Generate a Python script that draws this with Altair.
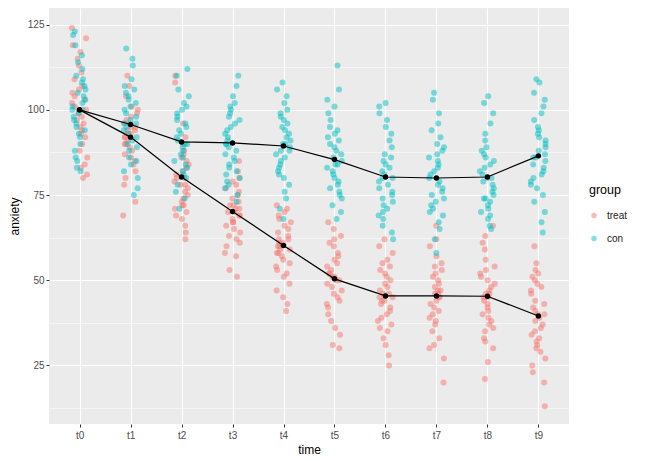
import altair as alt
import pandas as pd

times = ["t0", "t1", "t2", "t3", "t4", "t5", "t6", "t7", "t8", "t9"]
groups = ["treat", "con"]
group_colors = ["#F8766D", "#00BFC4"]

treat_values = [
    [124, 121, 119, 117, 115, 113, 111, 109, 107, 106, 105, 104, 103, 102, 101, 100, 100, 99, 98, 97, 96, 95, 94, 93, 92, 90, 88, 86, 84, 83, 81, 80],
    [110, 107, 104, 101, 100, 99, 98, 97, 96, 96, 95, 95, 94, 94, 93, 93, 92, 92, 91, 90, 90, 89, 88, 87, 86, 85, 84, 82, 80, 78, 73, 69],
    [110, 108, 96, 92, 90, 88, 87, 86, 85, 84, 83, 82, 81, 80, 80, 79, 78, 78, 77, 76, 75, 74, 73, 72, 72, 71, 70, 69, 68, 66, 64, 62],
    [85, 82, 80, 79, 78, 77, 76, 75, 74, 73, 72, 72, 71, 71, 70, 70, 69, 69, 68, 67, 67, 66, 65, 64, 63, 62, 61, 60, 58, 57, 53, 51],
    [72, 71, 70, 69, 68, 67, 66, 65, 64, 63, 62, 62, 61, 61, 60, 60, 59, 59, 58, 58, 57, 56, 55, 54, 53, 52, 51, 49, 47, 45, 43, 41],
    [67, 65, 63, 62, 61, 60, 58, 57, 56, 55, 54, 53, 52, 52, 51, 51, 50, 50, 49, 48, 47, 46, 45, 44, 43, 42, 40, 38, 36, 34, 31, 30],
    [62, 60, 58, 56, 55, 54, 53, 52, 51, 50, 49, 48, 47, 46, 46, 45, 45, 44, 44, 43, 42, 41, 40, 39, 38, 37, 36, 35, 33, 31, 28, 25],
    [66, 62, 60, 57, 55, 54, 53, 52, 51, 50, 49, 48, 47, 47, 46, 46, 45, 45, 44, 43, 42, 41, 40, 39, 38, 37, 35, 33, 31, 30, 27, 20],
    [66, 63, 61, 59, 56, 54, 53, 52, 51, 50, 49, 48, 47, 46, 46, 45, 45, 44, 43, 42, 41, 40, 39, 38, 37, 36, 35, 33, 32, 30, 26, 21],
    [60, 55, 53, 52, 51, 50, 49, 48, 47, 46, 44, 43, 42, 41, 40, 40, 39, 38, 37, 36, 35, 34, 33, 32, 31, 30, 29, 27, 25, 23, 20, 13],
]

con_values = [
    [123, 122, 119, 116, 114, 112, 110, 109, 108, 107, 106, 105, 104, 103, 102, 101, 100, 100, 99, 98, 97, 96, 95, 94, 93, 92, 90, 88, 86, 85, 83, 82],
    [118, 115, 113, 109, 107, 106, 105, 104, 103, 102, 101, 100, 99, 98, 97, 96, 96, 95, 94, 93, 92, 91, 90, 89, 88, 86, 85, 84, 82, 80, 77, 75],
    [112, 110, 106, 104, 102, 101, 100, 99, 98, 97, 96, 95, 94, 93, 92, 91, 90, 90, 89, 88, 87, 86, 85, 84, 83, 82, 81, 80, 78, 76, 74, 71],
    [110, 107, 104, 102, 101, 100, 99, 98, 97, 96, 95, 94, 93, 92, 91, 90, 90, 89, 88, 87, 86, 85, 84, 83, 82, 81, 80, 79, 78, 77, 75, 73],
    [108, 106, 104, 102, 100, 99, 98, 97, 96, 95, 94, 93, 92, 91, 90, 90, 89, 88, 88, 87, 86, 85, 84, 83, 82, 81, 80, 78, 76, 74, 71, 68],
    [113, 106, 103, 101, 99, 97, 95, 94, 93, 92, 91, 90, 89, 88, 87, 86, 85, 84, 84, 83, 82, 81, 80, 79, 78, 77, 76, 75, 74, 72, 70, 68],
    [102, 101, 99, 97, 95, 93, 91, 89, 87, 86, 85, 84, 83, 82, 81, 80, 80, 79, 78, 77, 76, 75, 74, 73, 72, 71, 70, 69, 68, 66, 64, 62],
    [105, 103, 99, 96, 94, 92, 90, 89, 88, 87, 86, 85, 84, 83, 82, 81, 80, 79, 78, 77, 76, 75, 74, 73, 72, 71, 70, 69, 67, 65, 62, 58],
    [104, 102, 99, 96, 93, 91, 89, 88, 87, 86, 85, 84, 83, 82, 81, 80, 80, 79, 78, 77, 76, 75, 74, 74, 73, 72, 71, 70, 69, 68, 66, 65],
    [109, 108, 105, 103, 101, 99, 97, 95, 94, 93, 92, 91, 90, 89, 88, 87, 86, 86, 85, 84, 83, 82, 81, 80, 79, 78, 77, 75, 73, 70, 67, 64],
]

treat_means = [100, 92, 80.3, 70.2, 60.2, 50.4, 45.4, 45.4, 45.3, 39.5]
con_means = [100, 95.7, 90.6, 90.3, 89.4, 85.4, 80.3, 80.0, 80.3, 86.5]

y_ticks = [12.5, 25, 37.5, 50, 62.5, 75, 87.5, 100, 112.5, 125]

rows = []
k = 0
for g, series in zip(groups, [treat_values, con_values]):
    for i, col in enumerate(series):
        for v in col:
            rows.append({"group": g, "ti": i, "time": times[i], "anxiety": v, "k": k})
            k += 1
points_df = pd.DataFrame(rows)

mrows = []
for g, ms in zip(groups, [treat_means, con_means]):
    for i, m in enumerate(ms):
        mrows.append({"group": g, "ti": i, "time": times[i], "mean": m})
means_df = pd.DataFrame(mrows)

FONT = "Liberation Sans"
major = "datum.value % 25 === 0"

xscale = alt.Scale(domain=[-0.6, 9.6], nice=False, zero=False)
yscale = alt.Scale(domain=[7.8, 129.9], nice=False, zero=False)

xaxis = alt.Axis(
    values=list(range(10)),
    labelExpr="'t' + datum.value",
    title="time",
    grid=True,
    gridColor="white",
    gridWidth=1.1,
    domain=False,
    tickColor="#333333",
    tickSize=3,
    labelColor="#4D4D4D",
    labelFontSize=10,
    labelPadding=3,
    titleFontSize=12,
    titleFontWeight="normal",
    titleColor="black",
    titlePadding=4,
)
yaxis = alt.Axis(
    values=y_ticks,
    labelExpr=f"{major} ? format(datum.value, 'd') : ''",
    title="anxiety",
    grid=True,
    gridColor="white",
    gridWidth={"condition": {"test": major, "value": 1.1}, "value": 0.5},
    tickOpacity={"condition": {"test": major, "value": 1}, "value": 0},
    domain=False,
    tickColor="#333333",
    tickSize=3,
    labelColor="#4D4D4D",
    labelFontSize=10,
    labelPadding=2,
    titleFontSize=12,
    titleFontWeight="normal",
    titleColor="black",
    titlePadding=6,
)

base_pts = alt.Chart(points_df).transform_calculate(
    xj="datum.ti + ((abs(sin(datum.k * 12.9898) * 43758.5453) % 1) - 0.5) * 0.3"
)

pts = base_pts.mark_circle(size=36, opacity=0.5).encode(
    x=alt.X("xj:Q", scale=xscale, axis=xaxis),
    y=alt.Y("anxiety:Q", scale=yscale, axis=yaxis),
    color=alt.Color(
        "group:N",
        scale=alt.Scale(domain=groups, range=group_colors),
        legend=alt.Legend(
            title="group",
            orient="none",
            legendX=540,
            legendY=176,
            titleFontSize=12.5,
            titleFontWeight="normal",
            titleColor="black",
            labelFontSize=10,
            labelColor="#222222",
            labelOffset=8,
            symbolType="circle",
            symbolSize=30,
            symbolOpacity=0.5,
            rowPadding=13,
            titlePadding=14,
        ),
    ),
)

line = alt.Chart(means_df).mark_line(color="black", strokeWidth=1.2).encode(
    x=alt.X("ti:Q", scale=xscale),
    y=alt.Y("mean:Q", scale=yscale),
    detail="group:N",
)
mpts = alt.Chart(means_df).mark_circle(color="black", size=30, opacity=1).encode(
    x=alt.X("ti:Q", scale=xscale),
    y=alt.Y("mean:Q", scale=yscale),
)

chart = alt.layer(pts, line, mpts).properties(
    width=520, height=416,
    padding={"left": 0, "top": 0, "right": 5, "bottom": 0},
).configure(
    font=FONT,
).configure_view(
    fill="#EBEBEB", stroke=None,
)

chart.save("out.html", embed_options={"renderer": "svg", "actions": False})
